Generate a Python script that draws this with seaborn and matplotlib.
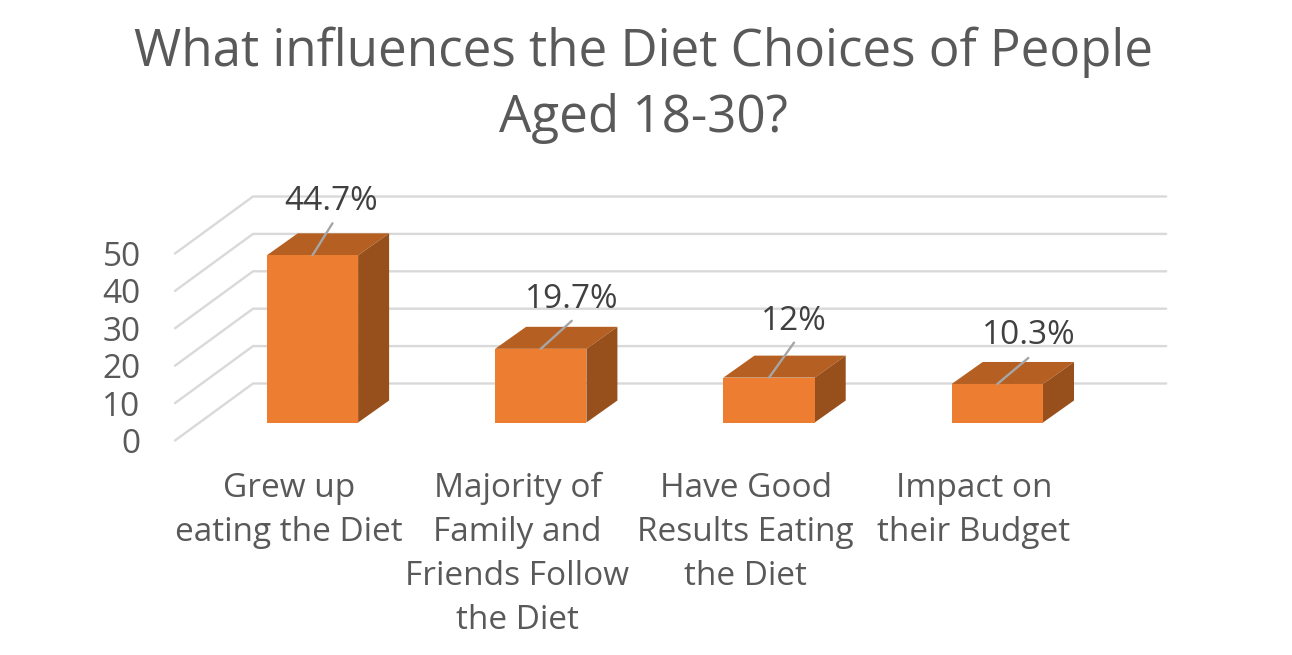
# Recreates the 3D looking bar chart of diet influences for people aged 18-30
#
# Usage: python3 plot.py

import matplotlib.pyplot as plt
from matplotlib.patches import Polygon
from matplotlib.transforms import ScaledTranslation
import seaborn as sns

categories = ["Grew up\neating the Diet",
              "Majority of\nFamily and\nFriends Follow\nthe Diet",
              "Have Good\nResults Eating\nthe Diet",
              "Impact on\ntheir Budget"]
values = [44.7, 19.7, 12, 10.3]
value_labels = ["44.7%", "19.7%", "12%", "10.3%"]
y_ticks = [0, 10, 20, 30, 40, 50]
title = "What influences the Diet Choices of People\nAged 18-30?"

# pixel layout of the fake 3D box, measured from the bars' plane
W, H, DPI = 1292, 655, 100
AX_LEFT, AX_RIGHT, AX_BOTTOM, AX_TOP = 198.3, 1111.5, 422.5, 235.5
PX_PER_CAT = (AX_RIGHT - AX_LEFT) / 4
PX_PER_UNIT = (AX_BOTTOM - AX_TOP) / 50
BAR_DEPTH = (31, 22)
WALL_BACK = (54.7, 39)
WALL_FRONT = (-23.3, -18)

# where the leader line ends and where the label sits, relative to bar top centre
leader_ends = [(20, 32), (31, 28), (25, 35), (31, 26)]
label_offsets = [(19, 54), (31, 49), (25, 56), (31, 48)]

ORANGE = "#ED7D31"
TOP_COLOUR = "#B56022"
SIDE_COLOUR = "#97501C"
GRID_COLOUR = "#D9D9D9"
TEXT_COLOUR = "#595959"
LABEL_COLOUR = "#404040"

FONT_SIZE = 24


def px_to_data(dx, dy):
    return dx / PX_PER_CAT, dy / PX_PER_UNIT


def draw_walls(ax):
    # gridlines run on the back wall, then fold forward along the left wall
    back_x, back_y = px_to_data(*WALL_BACK)
    front_x, front_y = px_to_data(*WALL_FRONT)
    left, right = ax.get_xlim()
    for tick in y_ticks:
        ax.plot([left + front_x, left + back_x, right + back_x],
                [tick + front_y, tick + back_y, tick + back_y],
                color=GRID_COLOUR, lw=1.7, zorder=1, clip_on=False,
                solid_joinstyle="round")


def draw_bar_sides(ax):
    depth_x, depth_y = px_to_data(*BAR_DEPTH)
    for bar in ax.patches[:len(values)]:
        x0, x1 = bar.get_x(), bar.get_x() + bar.get_width()
        top = bar.get_height()
        ax.add_patch(Polygon([(x0, top), (x1, top), (x1 + depth_x, top + depth_y), (x0 + depth_x, top + depth_y)],
                             closed=True, facecolor=TOP_COLOUR, edgecolor="none", zorder=2, clip_on=False))
        ax.add_patch(Polygon([(x1, 0), (x1 + depth_x, depth_y), (x1 + depth_x, top + depth_y), (x1, top)],
                             closed=True, facecolor=SIDE_COLOUR, edgecolor="none", zorder=2, clip_on=False))


def draw_value_labels(ax):
    for i, value in enumerate(values):
        ax.annotate("", xy=(i, value), xytext=leader_ends[i], textcoords="offset pixels",
                    arrowprops=dict(arrowstyle="-", color="#A6A6A6", lw=1.7, shrinkA=0, shrinkB=0),
                    annotation_clip=False, zorder=4)
        ax.annotate(value_labels[i], xy=(i, value), xytext=label_offsets[i], textcoords="offset pixels",
                    ha="center", va="center", fontsize=FONT_SIZE, color=LABEL_COLOUR,
                    annotation_clip=False, zorder=5)


def shift_tick_labels(fig, labels, dx, dy):
    shift = ScaledTranslation(dx / DPI, dy / DPI, fig.dpi_scale_trans)
    for label in labels:
        label.set_transform(label.get_transform() + shift)


sns.set_theme(style="white")
plt.rcParams["font.family"] = ["Open Sans", "DejaVu Sans"]

fig = plt.figure(figsize=(W / DPI, H / DPI), dpi=DPI, facecolor="white")
ax = fig.add_axes([AX_LEFT / W, 1 - AX_BOTTOM / H, (AX_RIGHT - AX_LEFT) / W, (AX_BOTTOM - AX_TOP) / H])

sns.barplot(x=categories, y=values, color=ORANGE, saturation=1, width=0.4, ax=ax, zorder=3, linewidth=0)

ax.set_xlim(-0.5, 3.5)
ax.set_ylim(0, 50)
ax.set_yticks(y_ticks)
ax.patch.set_visible(False)
sns.despine(ax=ax, left=True, bottom=True)
ax.grid(False)
ax.tick_params(axis="both", length=0, labelsize=FONT_SIZE, labelcolor=TEXT_COLOUR)
ax.tick_params(axis="x", pad=35.5)
ax.tick_params(axis="y", pad=41.5)
for label in ax.get_xticklabels():
    label.set_linespacing(1.44)

draw_walls(ax)
draw_bar_sides(ax)
draw_value_labels(ax)

# axis text belongs to the front edge of the floor, not the plane of the bars
shift_tick_labels(fig, ax.get_xticklabels(), WALL_FRONT[0], 0)
shift_tick_labels(fig, ax.get_yticklabels(), 0, WALL_FRONT[1])

fig.text(643 / W, 1 - 85 / H, title, ha="center", va="center", fontsize=36.8,
         color=TEXT_COLOUR, linespacing=1.39)

fig.savefig("out.png", dpi=DPI, facecolor="white")
